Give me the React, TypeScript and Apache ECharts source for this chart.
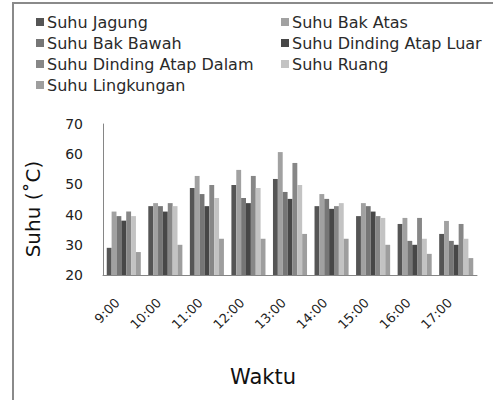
import React, { useEffect, useRef } from "react";
import * as echarts from "echarts";

const categories = ["9:00", "10:00", "11:00", "12:00", "13:00", "14:00", "15:00", "16:00", "17:00"];
const seriesNames = [
  "Suhu Jagung",
  "Suhu Bak Atas",
  "Suhu Bak Bawah",
  "Suhu Dinding Atap Luar",
  "Suhu Dinding Atap Dalam",
  "Suhu Ruang",
  "Suhu Lingkungan",
];
const suhuJagung = [29, 42.8, 48.8, 49.8, 51.8, 42.8, 39.5, 36.9, 33.6];
const suhuBakAtas = [41, 43.8, 52.8, 54.8, 60.7, 46.8, 43.8, 38.9, 37.9];
const suhuBakBawah = [39.5, 42.8, 46.8, 45.5, 47.5, 45.2, 42.8, 31.3, 31.3];
const suhuDindingLuar = [38, 41, 42.8, 43.8, 45.2, 41.9, 41, 30, 30];
const suhuDindingDalam = [41, 43.8, 49.8, 52.8, 57.1, 42.8, 39.5, 38.9, 36.9];
const suhuRuang = [39.5, 42.8, 45.5, 48.8, 49.8, 43.8, 38.9, 32, 32];
const suhuLingkungan = [27.6, 30, 32, 32, 33.6, 32, 30, 27, 25.6];
const yTicks = [20, 30, 40, 50, 60, 70];

const allData = [suhuJagung, suhuBakAtas, suhuBakBawah, suhuDindingLuar, suhuDindingDalam, suhuRuang, suhuLingkungan];
const colors = ["#555555", "#a1a1a1", "#767676", "#474747", "#878787", "#c3c3c3", "#9e9e9e"];

const FONT = "DejaVu Sans";

export default function App() {
  const ref = useRef<HTMLDivElement>(null);
  useEffect(() => {
    if (!ref.current) return;
    const chart = echarts.init(ref.current, null, { renderer: "svg" });
    const legendCommon = {
      orient: "vertical" as const,
      itemWidth: 8,
      itemHeight: 8,
      itemGap: 5,
      icon: "rect",
      textStyle: { fontFamily: FONT, fontSize: 16, color: "#2a2a2a", lineHeight: 16, padding: [0, 0, 0, -2] },
      padding: 0,
    };
    chart.setOption({
      animation: false,
      color: colors,
      graphic: [
        {
          type: "rect",
          shape: { x: 13, y: 3, width: 700, height: 700 },
          style: { fill: "none", stroke: "#8a8a8a", lineWidth: 2 },
          silent: true,
        },
        {
          type: "text",
          x: 33,
          y: 209,
          rotation: Math.PI / 2,
          style: {
            text: "Suhu (˚C)",
            fontFamily: FONT,
            fontSize: 20,
            fill: "#111",
            align: "center",
            verticalAlign: "middle",
          },
        },
        {
          type: "text",
          x: 263,
          y: 377,
          style: {
            text: "Waktu",
            fontFamily: FONT,
            fontSize: 21,
            fill: "#111",
            align: "center",
            verticalAlign: "middle",
          },
        },
      ],
      legend: [
        { ...legendCommon, left: 36, top: 14, data: [seriesNames[0], seriesNames[2], seriesNames[4], seriesNames[6]] },
        { ...legendCommon, left: 281, top: 14, data: [seriesNames[1], seriesNames[3], seriesNames[5]] },
      ],
      grid: { left: 103, right: 16, top: 124, bottom: 125 },
      xAxis: {
        type: "category",
        data: categories,
        axisLine: { show: true, lineStyle: { color: "#868686", width: 1 } },
        axisTick: { show: false },
        axisLabel: {
          rotate: 45,
          fontFamily: FONT,
          fontSize: 13,
          color: "#222",
          margin: 19,
          interval: 0,
          padding: [0, 9, 0, 0],
        },
      },
      yAxis: {
        type: "value",
        min: yTicks[0],
        max: yTicks[yTicks.length - 1],
        interval: 10,
        splitLine: { show: false },
        axisLine: { show: true, lineStyle: { color: "#868686", width: 1 } },
        axisTick: { show: false },
        axisLabel: { fontFamily: FONT, fontSize: 14, color: "#222", margin: 20 },
      },
      series: allData.map((d, i) => ({
        name: seriesNames[i],
        type: "bar",
        data: d,
        barGap: "0%",
        barCategoryGap: "18%",
        itemStyle: { color: colors[i] },
      })),
    });
    return () => chart.dispose();
  }, []);
  return <div ref={ref} style={{ width: 493, height: 400, position: "absolute", left: 0, top: 0 }} />;
}
